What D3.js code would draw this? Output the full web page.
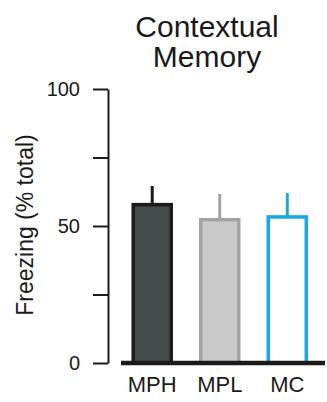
<!DOCTYPE html>
<html>
<head>
<meta charset="utf-8">
<script src="https://cdn.jsdelivr.net/npm/d3@7"></script>
<style>
  body { margin: 0; background: #fff; }
  text { font-family: "Liberation Sans", Arial, sans-serif; fill: #1a1a1a; }
</style>
</head>
<body>
<svg id="drawing_region"></svg>
<script>
const groups = [ 'MPH', 'MPL', 'MC' ];
const means = [ 57.8, 52.3, 53.3 ];
const errors = [ 6.8, 9.4, 8.7 ];
const yticks = [ 0, 25, 50, 75, 100 ];
const ylabels = [ 0, 50, 100 ];

const fills = [ '#444b4b', '#c9c9c9', '#ffffff' ];
const strokes = [ '#1b1b1b', '#a3a3a3', '#17a9e1' ];

const width = 327, height = 402;

const svg = d3.select( '#drawing_region' )
    .attr( 'width', width )
    .attr( 'height', height );

const yscale = d3.scaleLinear()
    .domain( [ 0, 100 ] )
    .range( [ 363, 89 ] );

const xscale = d3.scaleBand()
    .domain( groups )
    .range( [ 118.5, 321 ] )
    .paddingInner( 0.437 )
    .paddingOuter( 0.218 );

// title
svg.append( 'text' )
    .attr( 'x', 207 )
    .attr( 'y', 37 )
    .attr( 'text-anchor', 'middle' )
    .style( 'font-size', '30px' )
    .text( 'Contextual' );
svg.append( 'text' )
    .attr( 'x', 207 )
    .attr( 'y', 67 )
    .attr( 'text-anchor', 'middle' )
    .style( 'font-size', '30px' )
    .text( 'Memory' );

// y axis
const yaxis = d3.axisLeft( yscale )
    .tickValues( yticks )
    .tickSize( 15 )
    .tickSizeOuter( 0 )
    .tickFormat( d => ylabels.includes( d ) ? d : '' );

const yaxis_group = svg.append( 'g' )
    .attr( 'transform', 'translate(108,0)' )
    .call( yaxis );
yaxis_group.select( '.domain' )
    .attr( 'stroke', '#1a1a1a' )
    .attr( 'stroke-width', 2 );
yaxis_group.selectAll( '.tick line' )
    .attr( 'stroke', '#1a1a1a' )
    .attr( 'stroke-width', 2 );
yaxis_group.selectAll( '.tick text' )
    .attr( 'x', -28 )
    .style( 'font-size', '20px' )
    .style( 'font-family', '"Liberation Sans", Arial, sans-serif' )
    .attr( 'fill', '#1a1a1a' );

svg.append( 'text' )
    .attr( 'transform', 'translate(33,225) rotate(-90)' )
    .attr( 'text-anchor', 'middle' )
    .style( 'font-size', '23px' )
    .text( 'Freezing (% total)' );

// error bars
svg.selectAll( '.err' )
    .data( groups )
    .enter()
    .append( 'line' )
    .attr( 'class', 'err' )
    .attr( 'x1', d => xscale( d ) + xscale.bandwidth() / 2 )
    .attr( 'x2', d => xscale( d ) + xscale.bandwidth() / 2 )
    .attr( 'y1', ( d, i ) => yscale( means[i] ) )
    .attr( 'y2', ( d, i ) => yscale( means[i] + errors[i] ) )
    .attr( 'stroke', ( d, i ) => strokes[i] )
    .attr( 'stroke-width', 3 );

// bars
svg.selectAll( '.bar' )
    .data( groups )
    .enter()
    .append( 'rect' )
    .attr( 'class', 'bar' )
    .attr( 'x', d => xscale( d ) )
    .attr( 'y', ( d, i ) => yscale( means[i] ) )
    .attr( 'width', xscale.bandwidth() )
    .attr( 'height', ( d, i ) => yscale( 0 ) - yscale( means[i] ) )
    .attr( 'fill', ( d, i ) => fills[i] )
    .attr( 'stroke', ( d, i ) => strokes[i] )
    .attr( 'stroke-width', 3.5 );

// x baseline and labels
const xaxis = d3.axisBottom( xscale )
    .tickSize( 0 )
    .tickPadding( 13 );

const xaxis_group = svg.append( 'g' )
    .attr( 'transform', `translate(0,${yscale( 0 )})` )
    .call( xaxis );
xaxis_group.select( '.domain' )
    .attr( 'd', 'M121,0H325' )
    .attr( 'stroke', '#1a1a1a' )
    .attr( 'stroke-width', 4.5 );
xaxis_group.selectAll( '.tick text' )
    .style( 'font-size', '22px' )
    .style( 'font-family', '"Liberation Sans", Arial, sans-serif' )
    .attr( 'fill', '#1a1a1a' );
</script>
</body>
</html>
